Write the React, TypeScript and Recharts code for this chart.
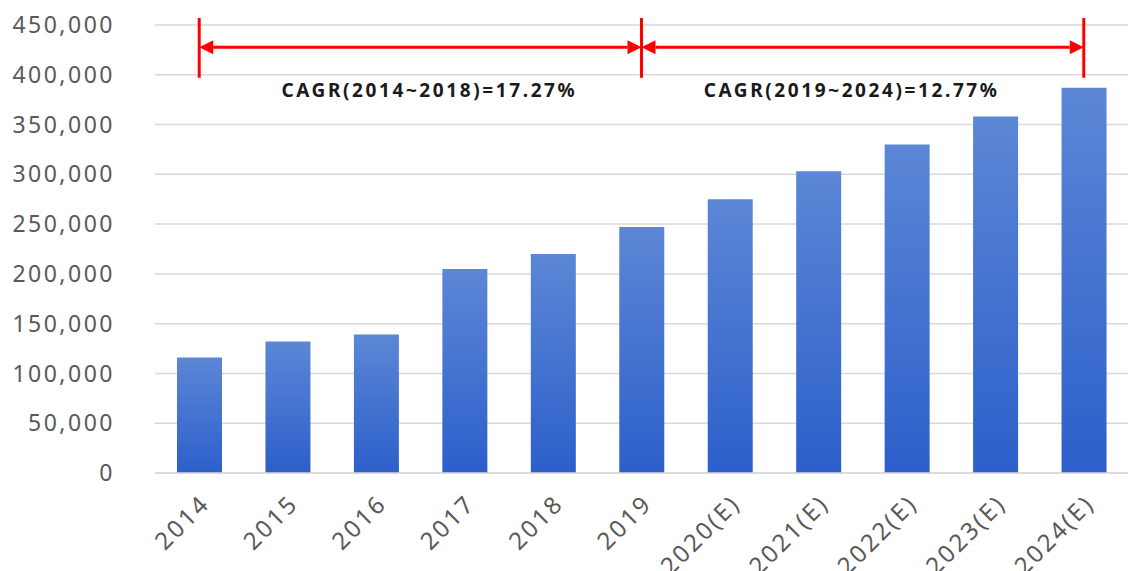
import { BarChart, Bar, XAxis, YAxis, CartesianGrid, ReferenceLine } from "recharts";

const years = ["2014", "2015", "2016", "2017", "2018", "2019", "2020(E)", "2021(E)", "2022(E)", "2023(E)", "2024(E)"];
const marketSize = [116000, 132000, 139000, 205000, 220000, 247000, 275000, 303000, 330000, 358000, 387000];
const yTicks = [0, 50000, 100000, 150000, 200000, 250000, 300000, 350000, 400000, 450000];
const cagrNotes = [
  { from: "2014", to: "2019", text: "CAGR(2014~2018)=17.27%", dx: 9 },
  { from: "2019", to: "2024(E)", text: "CAGR(2019~2024)=12.77%", dx: -11 },
];
const markYears = ["2014", "2019", "2024(E)"];

const data = years.map((year, i) => ({ year, value: marketSize[i] }));

const RED = "#ff0000";
const ARROW_Y = 427700;
const BRACKET_LOW = 397000;
const BRACKET_HIGH = 457000;
const FONT = "'Noto Sans', sans-serif";

function ArrowLine(props: any) {
  const { x1, y1, x2, y2 } = props;
  const h = 7;
  const w = 14;
  return (
    <g>
      <line x1={x1 + w} y1={y1} x2={x2 - w} y2={y2} stroke={RED} strokeWidth={3} />
      <polygon points={`${x1},${y1} ${x1 + w},${y1 - h} ${x1 + w},${y1 + h}`} fill={RED} />
      <polygon points={`${x2},${y2} ${x2 - w},${y2 - h} ${x2 - w},${y2 + h}`} fill={RED} />
    </g>
  );
}

function NoteLabel(text: string, dx: number) {
  return (props: any) => {
    const { viewBox } = props;
    const cx = viewBox.x + viewBox.width / 2 + dx;
    return (
      <text x={cx} y={viewBox.y + 50} textAnchor="middle" fontSize={19} fontWeight="bold" fill="#1a1a1a"
        letterSpacing={2.6} fontFamily={FONT}>
        {text}
      </text>
    );
  };
}

export default function App() {
  return (
    <div style={{ position: "absolute", left: 0, top: 0, background: "#fff" }}>
      <BarChart width={1130} height={571} data={data} margin={{ top: 25, right: 2, bottom: 68, left: 0 }}>
        <defs>
          <linearGradient id="barFill" x1="0" y1="0" x2="0" y2="1">
            <stop offset="0%" stopColor="#5c87d6" />
            <stop offset="100%" stopColor="#2c5fca" />
          </linearGradient>
        </defs>
        <CartesianGrid vertical={false} stroke="#d9d9d9" strokeWidth={1.5} />
        <XAxis
          dataKey="year"
          interval={0}
          height={30}
          axisLine={{ stroke: "#d9d9d9", strokeWidth: 1.5 }}
          tickLine={false}
          tickSize={0}
          tickMargin={20}
          angle={-45}
          textAnchor="end"
          tick={{ fill: "#595959", fontSize: 24, letterSpacing: 2.6, fontFamily: FONT }}
        />
        <YAxis
          width={155}
          domain={[0, 450000]}
          ticks={yTicks}
          axisLine={false}
          tickLine={false}
          tickSize={0}
          tickMargin={40}
          tickFormatter={(v: number) => v.toLocaleString("en-US")}
          tick={{ fill: "#595959", fontSize: 23, letterSpacing: 2.5, fontFamily: FONT }}
        />
        <Bar dataKey="value" fill="url(#barFill)" barSize={45} isAnimationActive={false} />
        {markYears.map((y) => (
          <ReferenceLine
            key={y}
            segment={[{ x: y, y: BRACKET_LOW }, { x: y, y: BRACKET_HIGH }]}
            stroke={RED}
            strokeWidth={3}
            ifOverflow="visible"
          />
        ))}
        {cagrNotes.map((n) => (
          <ReferenceLine
            key={n.text}
            segment={[{ x: n.from, y: ARROW_Y }, { x: n.to, y: ARROW_Y }]}
            ifOverflow="visible"
            shape={ArrowLine}
            label={NoteLabel(n.text, n.dx)}
          />
        ))}
      </BarChart>
    </div>
  );
}
